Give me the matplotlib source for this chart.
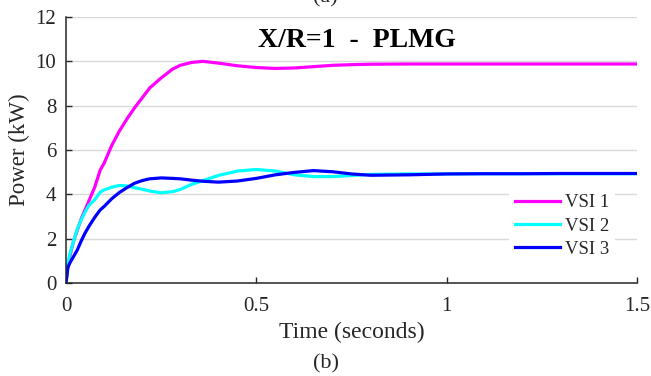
import matplotlib
matplotlib.use("Agg")
import matplotlib.pyplot as plt

# ---- data ----
time_s = [0, 0.005, 0.01, 0.02, 0.03, 0.04, 0.05, 0.06, 0.075, 0.09, 0.1, 0.12,
          0.14, 0.16, 0.18, 0.2, 0.22, 0.25, 0.28, 0.3, 0.33, 0.36, 0.4, 0.45,
          0.5, 0.55, 0.6, 0.65, 0.7, 0.75, 0.8, 0.9, 1.0, 1.1, 1.2, 1.3, 1.4, 1.5]
vsi1 = [0, 0.8, 1.2, 1.9, 2.4, 2.9, 3.3, 3.7, 4.3, 5.1, 5.4, 6.2,
        6.85, 7.4, 7.9, 8.35, 8.8, 9.25, 9.65, 9.82, 9.95, 10.0, 9.92, 9.8,
        9.72, 9.68, 9.7, 9.76, 9.82, 9.85, 9.87, 9.88, 9.88, 9.88, 9.88, 9.88, 9.88, 9.88]
vsi2 = [0, 0.85, 1.3, 1.9, 2.45, 2.85, 3.2, 3.5, 3.75, 4.1, 4.2, 4.32,
        4.4, 4.38, 4.3, 4.23, 4.15, 4.07, 4.12, 4.22, 4.45, 4.62, 4.85, 5.05,
        5.12, 5.05, 4.88, 4.8, 4.8, 4.85, 4.9, 4.92, 4.92, 4.93, 4.93, 4.93, 4.93, 4.93]
vsi3 = [0, 0.7, 0.9, 1.2, 1.5, 1.9, 2.25, 2.55, 2.95, 3.3, 3.45, 3.8,
        4.08, 4.3, 4.5, 4.62, 4.7, 4.74, 4.72, 4.7, 4.64, 4.59, 4.55, 4.6,
        4.72, 4.88, 4.99, 5.07, 5.02, 4.92, 4.86, 4.88, 4.92, 4.93, 4.93, 4.94, 4.94, 4.94]
series_labels = ["VSI 1", "VSI 2", "VSI 3"]
x_ticks = [0, 0.5, 1, 1.5]
x_tick_labels = ["0", "0.5", "1", "1.5"]
y_ticks = [0, 2, 4, 6, 8, 10, 12]
title = "X/R=1  -  PLMG"

plt.rcParams['font.family'] = ['Liberation Serif', 'DejaVu Serif']
txt = '#262626'

fig = plt.figure(figsize=(6.51, 3.76), dpi=100)
ax = fig.add_axes([66/651, 1 - 283/376, 571/651, 266/376])

colors = ['#FF00FF', '#00FFFF', '#0000FF']
for y, c, lab in zip([vsi1, vsi2, vsi3], colors, series_labels):
    ax.plot(time_s, y, color=c, lw=2.3, label=lab, solid_joinstyle='round')

ax.set_xlim(0, 1.5)
ax.set_ylim(0, 12)
ax.set_xticks(x_ticks)
ax.set_xticklabels(x_tick_labels)
ax.set_yticks(y_ticks)
ax.yaxis.grid(True, color='#d9d9d9', lw=1.0)
ax.set_axisbelow(True)
for s in ['top', 'right']:
    ax.spines[s].set_visible(False)
for s in ['left', 'bottom']:
    ax.spines[s].set_linewidth(1.1)
    ax.spines[s].set_color('#262626')
ax.tick_params(direction='in', length=4, width=1.0, colors=txt, labelsize=15)
ax.tick_params(axis='y', pad=7)
ax.tick_params(axis='x', pad=10)

ax.set_xlabel("Time (seconds)", fontsize=17, color=txt)
ax.xaxis.set_label_coords(0.5, -0.145)
ax.set_ylabel("Power (kW)", fontsize=16.5, color=txt)
ax.yaxis.set_label_coords(-0.063, 0.5)

ax.text(0.509, 0.91, title, transform=ax.transAxes, ha='center', va='center',
        fontsize=20, fontweight='bold', color='black')

leg = ax.legend(loc='upper left', bbox_to_anchor=(0.76, 0.39), fontsize=13.5,
                frameon=True, facecolor='white', edgecolor='none', framealpha=1,
                handlelength=2.4, handletextpad=0.27, labelspacing=0.32,
                borderpad=0.3, fancybox=False)
for t in leg.get_texts():
    t.set_color(txt)

fig.text(0.5, 1.006, "(a)", ha='center', va='center', fontsize=16, color=txt)
fig.text(0.5, 0.032, "(b)", ha='center', va='center', fontsize=16, color=txt)

fig.savefig("out.png", dpi=100)
